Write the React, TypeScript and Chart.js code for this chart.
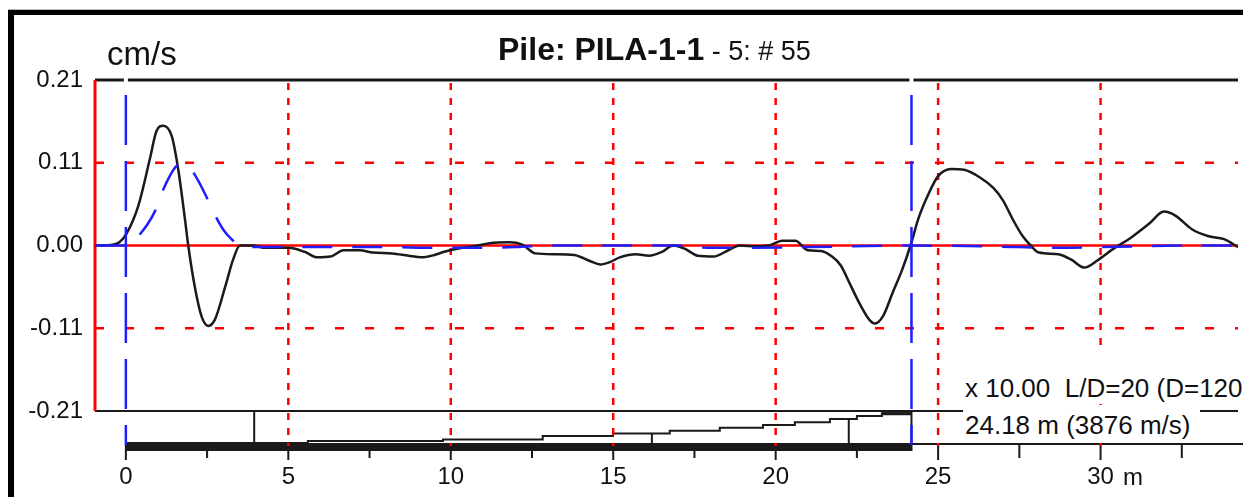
import React, { useEffect, useRef } from "react";
import { Chart, registerables } from "chart.js";

Chart.register(...registerables);

// ---------- data ----------
const X_MIN = -0.95;
const X_MAX = 34.23;
const Y_MIN = -0.21;
const Y_MAX = 0.21;

const xTickValues = [0, 5, 10, 15, 20, 25, 30];
const xTickLabels = ["0", "5", "10", "15", "20", "25", "30"];
const yTickValues = [-0.21, -0.105, 0, 0.105, 0.21];
const yTickLabels = ["-0.21", "-0.11", "0.00", "0.11", "0.21"];
const yGridValues = [-0.105, 0.105];

// measured velocity trace (cm/s) vs depth (m)
const depthM = [
  -0.95, -0.4, -0.2, 0.02, 0.38, 0.74, 0.94, 1.15, 1.41, 1.61, 1.82, 1.92, 2.12, 2.33, 2.53, 2.74, 3.06, 3.3,
  3.51, 3.9, 4.3, 5.0, 5.5, 5.9, 6.3, 6.7, 7.2, 7.6, 8.2, 8.7, 9.1, 9.5, 9.8, 10.2, 10.7, 11.2, 11.8, 12.2,
  12.6, 13.2, 13.8, 14.3, 14.6, 14.9, 15.2, 15.7, 16.1, 16.5, 16.85, 17.2, 17.6, 18.1, 18.5, 18.9, 19.4, 19.8,
  20.2, 20.6, 21.0, 21.4, 21.7, 22.0, 22.3, 22.6, 22.9, 23.05, 23.3, 23.6, 23.9, 24.15, 24.4, 24.7, 25.0, 25.4,
  25.8, 26.3, 26.7, 27.0, 27.3, 27.6, 27.85, 28.1, 28.7, 29.1, 29.5, 29.9, 30.4, 30.9, 31.5, 31.95, 32.3, 32.8,
  33.3, 33.8, 34.23,
];
const velocity = [
  0, 0.001, 0.004, 0.015, 0.05, 0.11, 0.145, 0.152, 0.139, 0.097, 0.033, 0.0, -0.052, -0.09, -0.102, -0.094, -0.052, -0.018,
  0, 0, -0.003, -0.003, -0.008, -0.015, -0.014, -0.006, -0.006, -0.009, -0.01, -0.013, -0.015, -0.012, -0.008, -0.004, -0.001, 0.003, 0.004, 0.001,
  -0.01, -0.011, -0.012, -0.02, -0.024, -0.021, -0.015, -0.011, -0.013, -0.008, 0.0, -0.004, -0.013, -0.014, -0.007, 0.0, -0.001, 0.0,
  0.006, 0.006, -0.006, -0.007, -0.013, -0.025, -0.05, -0.075, -0.095, -0.099, -0.09, -0.06, -0.03, 0.0, 0.035, 0.065, 0.088, 0.097,
  0.096, 0.086, 0.073, 0.057, 0.033, 0.012, 0.0, -0.009, -0.011, -0.018, -0.028, -0.019, -0.004, 0.009, 0.028, 0.043, 0.038, 0.021,
  0.012, 0.008, -0.002,
];

// reference (input pulse) trace
const refDepth = [
  -0.95, 0.15, 0.37, 0.65, 0.89, 1.1, 1.35, 1.56, 1.78, 2.02, 2.23, 2.43, 2.74, 3.0, 3.25, 3.5, 4.2, 5.0, 8.0,
  9.5, 12.0, 13.0, 17.0, 18.0, 21.0, 24.0, 27.5, 28.5, 30.0, 33.0, 34.23,
];
const refVelocity = [
  0, 0, 0.011, 0.026, 0.043, 0.066, 0.088, 0.101, 0.104, 0.096, 0.082, 0.066, 0.039, 0.02, 0.008, 0, -0.002, -0.002, -0.002,
  -0.003, -0.002, 0, 0, -0.003, -0.002, 0, -0.002, -0.003, -0.002, 0, 0,
];

// pile model
const pileLength = 24.18;
const sensorDepth = 3.95;
const profileDepth = [0, 5.6, 9.76, 12.83, 14.99, 16.74, 18.28, 19.61, 20.59, 21.67, 22.5, 23.27];
const profileLevel = [0, 6, 11, 22, 30, 38, 48, 56, 65, 75, 84, 93]; // % of profile box height
const markerDepths = [16.19, 22.25];
const axisTickStep = 2.5;

// ---------- style ----------
const FONT = "'Liberation Sans', Arial, sans-serif";
const RED = "rgb(255,0,0)";
const BLUE = "rgb(30,30,255)";
const BLACK = "#1a1a1a";

const levelAt = (m: number) => {
  let lv = 0;
  for (let i = 0; i < profileDepth.length; i++) if (m >= profileDepth[i]) lv = profileLevel[i];
  return lv;
};

const pilePlugin = {
  id: "pileDiagram",
  beforeDatasetsDraw(chart: any) {
    const { ctx, chartArea: a, scales } = chart;
    const xs = scales.x;
    const ys = scales.y;
    const px = (m: number) => xs.getPixelForValue(m);
    const boxTop = a.bottom;
    const barTop = a.bottom + 32;
    const barBottom = barTop + 8;
    const axisY = barTop + 1;
    const lvY = (lv: number) => barTop - (lv / 100) * (barTop - boxTop);

    ctx.save();
    ctx.lineCap = "butt";

    // horizontal dashed grid
    ctx.strokeStyle = RED;
    ctx.lineWidth = 2.5;
    ctx.setLineDash([9, 21]);
    for (const v of yGridValues) {
      const yy = ys.getPixelForValue(v);
      ctx.beginPath();
      ctx.moveTo(a.left, yy);
      ctx.lineTo(a.right, yy);
      ctx.stroke();
    }
    // zero line
    ctx.setLineDash([]);
    ctx.lineWidth = 2.5;
    const y0 = ys.getPixelForValue(0);
    ctx.beginPath();
    ctx.moveTo(a.left, y0);
    ctx.lineTo(a.right, y0);
    ctx.stroke();

    // frame lines
    ctx.strokeStyle = BLACK;
    ctx.lineWidth = 3;
    ctx.beginPath();
    ctx.moveTo(a.left, a.top);
    ctx.lineTo(a.right, a.top);
    ctx.stroke();
    ctx.lineWidth = 2;
    ctx.beginPath();
    ctx.moveTo(a.left, a.bottom);
    ctx.lineTo(a.right, a.bottom);
    ctx.stroke();
    ctx.strokeStyle = RED;
    ctx.lineWidth = 3;
    ctx.beginPath();
    ctx.moveTo(a.left, a.top);
    ctx.lineTo(a.left, a.bottom);
    ctx.stroke();

    // pile bar + axis
    ctx.fillStyle = BLACK;
    ctx.fillRect(px(0), barTop, px(pileLength) - px(0), barBottom - barTop);
    ctx.strokeStyle = BLACK;
    ctx.lineWidth = 2;
    ctx.beginPath();
    ctx.moveTo(px(pileLength), axisY);
    ctx.lineTo(chart.width, axisY);
    ctx.stroke();
    // ticks
    for (let t = 0; t <= X_MAX; t += axisTickStep) {
      const major = Math.abs(t / 5 - Math.round(t / 5)) < 1e-6;
      ctx.beginPath();
      ctx.moveTo(px(t), axisY);
      ctx.lineTo(px(t), major ? barBottom + 9 : barBottom + 7);
      ctx.stroke();
    }
    // profile steps
    ctx.beginPath();
    for (let i = 0; i < profileDepth.length; i++) {
      const x0 = px(profileDepth[i]);
      const x1 = px(i + 1 < profileDepth.length ? profileDepth[i + 1] : pileLength);
      const yy = lvY(profileLevel[i]);
      if (i === 0) ctx.moveTo(x0, yy);
      else ctx.lineTo(x0, yy);
      ctx.lineTo(x1, yy);
    }
    ctx.stroke();
    const lastY = lvY(profileLevel[profileLevel.length - 1]);
    ctx.fillRect(px(profileDepth[profileDepth.length - 1]), lastY - 1, px(pileLength) - px(profileDepth[profileDepth.length - 1]), 3);
    // markers
    ctx.beginPath();
    ctx.moveTo(px(sensorDepth), boxTop);
    ctx.lineTo(px(sensorDepth), barTop);
    for (const m of markerDepths) {
      ctx.moveTo(px(m), lvY(levelAt(m)));
      ctx.lineTo(px(m), barTop + 3);
    }
    ctx.moveTo(px(pileLength), boxTop);
    ctx.lineTo(px(pileLength), barBottom);
    ctx.stroke();

    // vertical dashed grid
    ctx.strokeStyle = RED;
    ctx.lineWidth = 2.5;
    ctx.setLineDash([7, 8]);
    for (const v of xTickValues) {
      if (v === 0) continue;
      ctx.beginPath();
      ctx.moveTo(px(v), a.top + 3);
      ctx.lineTo(px(v), axisY + 2);
      ctx.stroke();
    }
    ctx.setLineDash([]);

    // gaps in top frame line
    ctx.fillStyle = "#ffffff";
    for (const m of [0, pileLength]) ctx.fillRect(px(m) - 2, a.top - 3, 4, 6);
    ctx.restore();
  },
  afterDatasetsDraw(chart: any) {
    const { ctx, chartArea: a, scales } = chart;
    const px = (m: number) => scales.x.getPixelForValue(m);
    ctx.save();
    ctx.strokeStyle = BLUE;
    ctx.lineWidth = 2.5;
    ctx.setLineDash([50, 16]);
    for (const m of [0, pileLength]) {
      ctx.beginPath();
      ctx.moveTo(px(m), a.top + 15);
      ctx.lineTo(px(m), a.bottom + 34);
      ctx.stroke();
    }
    ctx.restore();
  },
};

export default function App() {
  const ref = useRef<HTMLCanvasElement | null>(null);

  useEffect(() => {
    if (!ref.current) return;
    const chart = new Chart(ref.current, {
      type: "line",
      data: {
        datasets: [
          {
            label: "reference",
            data: refDepth.map((x, i) => ({ x, y: refVelocity[i] })),
            borderColor: BLUE,
            borderWidth: 2.5,
            borderDash: [30, 20],
            pointRadius: 0,
            cubicInterpolationMode: "monotone",
            fill: false,
          },
          {
            label: "velocity",
            data: depthM.map((x, i) => ({ x, y: velocity[i] })),
            borderColor: BLACK,
            borderWidth: 2.5,
            pointRadius: 0,
            cubicInterpolationMode: "monotone",
            fill: false,
          },
        ],
      },
      options: {
        animation: false,
        responsive: false,
        devicePixelRatio: 1,
        layout: { padding: { top: 80, right: 5, left: 0, bottom: 0 } },
        plugins: { legend: { display: false }, tooltip: { enabled: false }, title: { display: false } },
        scales: {
          x: {
            type: "linear",
            min: X_MIN,
            max: X_MAX,
            grid: { display: false, drawTicks: false },
            border: { display: false },
            afterBuildTicks: (s: any) => {
              s.ticks = xTickValues.map((v) => ({ value: v }));
            },
            afterFit: (s: any) => {
              s.height = 86;
            },
            ticks: {
              autoSkip: false,
              maxRotation: 0,
              padding: 52,
              color: "#111",
              font: { family: FONT, size: 24 },
              callback: (_v: any, i: number) => xTickLabels[i],
            },
          },
          y: {
            type: "linear",
            min: Y_MIN,
            max: Y_MAX,
            grid: { display: false, drawTicks: false },
            border: { display: false },
            afterBuildTicks: (s: any) => {
              s.ticks = yTickValues.map((v) => ({ value: v }));
            },
            afterFit: (s: any) => {
              s.width = 95;
            },
            ticks: {
              autoSkip: false,
              padding: 12,
              color: "#111",
              font: { family: FONT, size: 24 },
              callback: (_v: any, i: number) => yTickLabels[i],
            },
          },
        },
      },
      plugins: [pilePlugin],
    } as any);
    return () => chart.destroy();
  }, []);

  const txt: React.CSSProperties = { position: "absolute", fontFamily: FONT, color: "#111", whiteSpace: "pre" };

  return (
    <div style={{ position: "fixed", left: 0, top: 0, width: 1243, height: 497, background: "#fff", overflow: "hidden" }}>
      <div style={{ position: "absolute", left: 8, top: 9, width: 1400, height: 600, borderTop: "1px solid #bbb" }} />
      <div style={{ position: "absolute", left: 8, top: 10, width: 1400, height: 600, borderTop: "5px solid #000", borderLeft: "6px solid #000" }} />
      <canvas ref={ref} width={1243} height={497} style={{ position: "absolute", left: 0, top: 0, width: 1243, height: 497 }} />
      <div style={{ ...txt, left: 498, top: 33, fontSize: 32, lineHeight: 1 }}>
        <span style={{ fontWeight: "bold" }}>Pile: PILA-1-1</span>
        <span style={{ fontSize: 27 }}>{" - 5: # 55"}</span>
      </div>
      <div style={{ ...txt, left: 107, top: 37, fontSize: 33, lineHeight: 1 }}>cm/s</div>
      <div style={{ ...txt, left: 1123, top: 465, fontSize: 24, lineHeight: 1 }}>m</div>
      <div style={{ ...txt, left: 963, top: 352, paddingTop: 20, paddingLeft: 2, height: 32, width: 300, lineHeight: "32px", fontSize: 26, background: "#fff" }}>
        {"x 10.00  L/D=20 (D=120"}
      </div>
      <div style={{ ...txt, left: 963, top: 409, paddingLeft: 2, height: 32, width: 235, lineHeight: "32px", fontSize: 26, background: "#fff" }}>
        24.18 m (3876 m/s)
      </div>
    </div>
  );
}
